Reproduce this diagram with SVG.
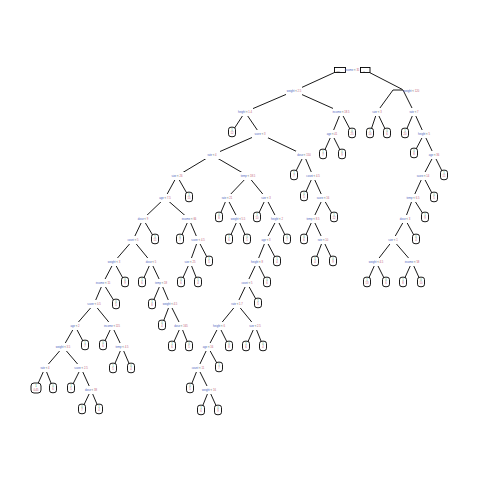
<svg xmlns="http://www.w3.org/2000/svg" width="480" height="480" viewBox="0 0 480 480">
<style>
.e line{stroke:#000;stroke-width:0.9;fill:none}
.n rect{fill:#fff}
.lf rect{fill:#fff;stroke:#000;stroke-width:0.9}
.rt rect{fill:#fff;stroke:#000;stroke-width:0.9}
text{font-family:"Liberation Sans",Arial,sans-serif;font-size:2.7px;text-anchor:middle}
.v{fill:#4a5fc1}.o{fill:#666}.c{fill:#c25a76}.g{fill:#2f9a5a}
</style>
<rect width="480" height="480" fill="#fff"/>
<g class="e" id="connectors">
<line x1="334.5" y1="72.5" x2="294" y2="91"/>
<line x1="369.5" y1="72.5" x2="402.5" y2="89.5"/>
<line x1="393" y1="90" x2="403" y2="90"/>
<line x1="393" y1="90" x2="377" y2="112"/>
<line x1="403" y1="90" x2="414" y2="112"/>
<line x1="294" y1="91" x2="245" y2="112"/><line x1="294" y1="91" x2="341" y2="112"/>
<line x1="245" y1="112" x2="232" y2="132"/><line x1="245" y1="112" x2="260" y2="134"/>
<line x1="341" y1="112" x2="332" y2="134"/><line x1="341" y1="112" x2="352" y2="133"/>
<line x1="260" y1="134" x2="212" y2="155"/><line x1="260" y1="134" x2="304" y2="155"/>
<line x1="332" y1="134" x2="323" y2="154"/><line x1="332" y1="134" x2="342" y2="154"/>
<line x1="212" y1="155" x2="177" y2="176"/><line x1="212" y1="155" x2="248" y2="176"/>
<line x1="304" y1="155" x2="294" y2="175"/><line x1="304" y1="155" x2="313" y2="176"/>
<line x1="177" y1="176" x2="165" y2="198"/><line x1="177" y1="176" x2="189" y2="197"/>
<line x1="248" y1="176" x2="227" y2="198"/><line x1="248" y1="176" x2="266" y2="198"/>
<line x1="313" y1="176" x2="304" y2="196"/><line x1="313" y1="176" x2="323" y2="198"/>
<line x1="165" y1="198" x2="143" y2="219"/><line x1="165" y1="198" x2="189" y2="219"/>
<line x1="227" y1="198" x2="219" y2="217"/><line x1="227" y1="198" x2="238" y2="219"/>
<line x1="266" y1="198" x2="257" y2="217"/><line x1="266" y1="198" x2="277" y2="219"/>
<line x1="323" y1="198" x2="313" y2="219"/><line x1="323" y1="198" x2="334" y2="217"/>
<line x1="143" y1="219" x2="133" y2="240"/><line x1="143" y1="219" x2="155" y2="239"/>
<line x1="189" y1="219" x2="180" y2="239"/><line x1="189" y1="219" x2="198" y2="240"/>
<line x1="238" y1="219" x2="229" y2="239"/><line x1="238" y1="219" x2="247" y2="239"/>
<line x1="277" y1="219" x2="266" y2="240"/><line x1="277" y1="219" x2="287" y2="239"/>
<line x1="313" y1="219" x2="304" y2="239"/><line x1="313" y1="219" x2="323" y2="240"/>
<line x1="133" y1="240" x2="114" y2="262"/><line x1="133" y1="240" x2="151" y2="262"/>
<line x1="198" y1="240" x2="190" y2="262"/><line x1="198" y1="240" x2="209" y2="261"/>
<line x1="266" y1="240" x2="257" y2="262"/><line x1="266" y1="240" x2="277" y2="261"/>
<line x1="323" y1="240" x2="315" y2="261"/><line x1="323" y1="240" x2="333" y2="261"/>
<line x1="114" y1="262" x2="103" y2="283"/><line x1="114" y1="262" x2="125" y2="282"/>
<line x1="151" y1="262" x2="142" y2="282"/><line x1="151" y1="262" x2="161" y2="283"/>
<line x1="190" y1="262" x2="181" y2="282"/><line x1="190" y1="262" x2="198" y2="282"/>
<line x1="257" y1="262" x2="247" y2="283"/><line x1="257" y1="262" x2="267" y2="282"/>
<line x1="103" y1="283" x2="94" y2="304"/><line x1="103" y1="283" x2="116" y2="304"/>
<line x1="161" y1="283" x2="152" y2="304"/><line x1="161" y1="283" x2="170" y2="304"/>
<line x1="247" y1="283" x2="237" y2="304"/><line x1="247" y1="283" x2="258" y2="303"/>
<line x1="94" y1="304" x2="75" y2="326"/><line x1="94" y1="304" x2="112" y2="326"/>
<line x1="170" y1="304" x2="162" y2="325"/><line x1="170" y1="304" x2="181" y2="326"/>
<line x1="237" y1="304" x2="219" y2="326"/><line x1="237" y1="304" x2="255" y2="326"/>
<line x1="75" y1="326" x2="63" y2="347"/><line x1="75" y1="326" x2="85" y2="345"/>
<line x1="112" y1="326" x2="103" y2="345"/><line x1="112" y1="326" x2="122" y2="347"/>
<line x1="181" y1="326" x2="172" y2="346"/><line x1="181" y1="326" x2="189" y2="346"/>
<line x1="219" y1="326" x2="208" y2="347"/><line x1="219" y1="326" x2="229" y2="346"/>
<line x1="255" y1="326" x2="246" y2="346"/><line x1="255" y1="326" x2="263" y2="346"/>
<line x1="63" y1="347" x2="45" y2="368"/><line x1="63" y1="347" x2="81" y2="368"/>
<line x1="122" y1="347" x2="113" y2="368"/><line x1="122" y1="347" x2="131" y2="368"/>
<line x1="208" y1="347" x2="198" y2="368"/><line x1="208" y1="347" x2="219" y2="367"/>
<line x1="45" y1="368" x2="36" y2="388"/><line x1="45" y1="368" x2="53" y2="388"/>
<line x1="81" y1="368" x2="71" y2="388"/><line x1="81" y1="368" x2="91" y2="390"/>
<line x1="198" y1="368" x2="190" y2="388"/><line x1="198" y1="368" x2="209" y2="390"/>
<line x1="91" y1="390" x2="82" y2="409"/><line x1="91" y1="390" x2="99" y2="409"/>
<line x1="209" y1="390" x2="201" y2="410"/><line x1="209" y1="390" x2="218" y2="410"/>
<line x1="377" y1="112" x2="370" y2="133"/><line x1="377" y1="112" x2="387" y2="133"/>
<line x1="414" y1="112" x2="405" y2="133"/><line x1="414" y1="112" x2="424" y2="134"/>
<line x1="424" y1="134" x2="414" y2="153"/><line x1="424" y1="134" x2="434" y2="155"/>
<line x1="434" y1="155" x2="423" y2="176"/><line x1="434" y1="155" x2="444" y2="175"/>
<line x1="423" y1="176" x2="413" y2="198"/><line x1="423" y1="176" x2="434" y2="197"/>
<line x1="413" y1="198" x2="405" y2="219"/><line x1="413" y1="198" x2="425" y2="217"/>
<line x1="405" y1="219" x2="393" y2="240"/><line x1="405" y1="219" x2="416" y2="239"/>
<line x1="393" y1="240" x2="376" y2="262"/><line x1="393" y1="240" x2="412" y2="262"/>
<line x1="376" y1="262" x2="367" y2="282"/><line x1="376" y1="262" x2="386" y2="282"/>
<line x1="412" y1="262" x2="403" y2="282"/><line x1="412" y1="262" x2="421" y2="282"/>
</g>
<g id="root" class="rt">
<rect x="334.5" y="67.5" width="11" height="5"/>
<rect x="360.5" y="67.5" width="9.5" height="5"/>
<text x="352" y="71"><tspan class="v">income</tspan><tspan class="o"> &lt; </tspan><tspan class="c">35</tspan></text>
<text x="338" y="71.5" class="o" style="font-size:2px">root</text>
<text x="364" y="71.5" class="o" style="font-size:2px">n</text>
</g>
<g id="nB"><text x="411.5" y="91.5"><tspan class="v">weight</tspan><tspan class="o"> &lt; </tspan><tspan class="c">120</tspan></text></g>
<g class="n">
<g id="nA"><rect x="286" y="87" width="16" height="8"/><text x="294" y="92"><tspan class="v">weight</tspan><tspan class="o"> &lt; </tspan><tspan class="c">2.5</tspan></text></g>
<g id="nA1"><rect x="237" y="108" width="16" height="8"/><text x="245" y="113"><tspan class="v">height</tspan><tspan class="o"> &lt; </tspan><tspan class="c">1.4</tspan></text></g>
<g id="nA2"><rect x="333" y="108" width="16" height="8"/><text x="341" y="113"><tspan class="v">income</tspan><tspan class="o"> &lt; </tspan><tspan class="c">18.5</tspan></text></g>
<g id="nA1R"><rect x="252" y="130" width="16" height="8"/><text x="260" y="135"><tspan class="v">score</tspan><tspan class="o"> &lt; </tspan><tspan class="c">3</tspan></text></g>
<g id="nA2L"><rect x="324" y="130" width="16" height="8"/><text x="332" y="135"><tspan class="v">age</tspan><tspan class="o"> &lt; </tspan><tspan class="c">41</tspan></text></g>
<g id="nN1"><rect x="204" y="151" width="16" height="8"/><text x="212" y="156"><tspan class="v">rate</tspan><tspan class="o"> &lt; </tspan><tspan class="c">4</tspan></text></g>
<g id="nN2"><rect x="296" y="151" width="16" height="8"/><text x="304" y="156"><tspan class="v">dose</tspan><tspan class="o"> &lt; </tspan><tspan class="c">150</tspan></text></g>
<g id="nP2"><rect x="169" y="172" width="16" height="8"/><text x="177" y="177"><tspan class="v">size</tspan><tspan class="o"> &lt; </tspan><tspan class="c">26</tspan></text></g>
<g id="nP3"><rect x="240" y="172" width="16" height="8"/><text x="248" y="177"><tspan class="v">temp</tspan><tspan class="o"> &lt; </tspan><tspan class="c">18.5</tspan></text></g>
<g id="nQ1"><rect x="305" y="172" width="16" height="8"/><text x="313" y="177"><tspan class="v">count</tspan><tspan class="o"> &lt; </tspan><tspan class="c">4.5</tspan></text></g>
<g id="nP4"><rect x="157" y="194" width="16" height="8"/><text x="165" y="199"><tspan class="v">age</tspan><tspan class="o"> &lt; </tspan><tspan class="c">7.5</tspan></text></g>
<g id="nP18"><rect x="219" y="194" width="16" height="8"/><text x="227" y="199"><tspan class="v">rate</tspan><tspan class="o"> &lt; </tspan><tspan class="c">21</tspan></text></g>
<g id="nP19"><rect x="258" y="194" width="16" height="8"/><text x="266" y="199"><tspan class="v">size</tspan><tspan class="o"> &lt; </tspan><tspan class="c">3</tspan></text></g>
<g id="nQ2"><rect x="315" y="194" width="16" height="8"/><text x="323" y="199"><tspan class="v">score</tspan><tspan class="o"> &lt; </tspan><tspan class="c">16</tspan></text></g>
<g id="nP5"><rect x="135" y="215" width="16" height="8"/><text x="143" y="220"><tspan class="v">dose</tspan><tspan class="o"> &lt; </tspan><tspan class="c">9</tspan></text></g>
<g id="nP6"><rect x="181" y="215" width="16" height="8"/><text x="189" y="220"><tspan class="v">income</tspan><tspan class="o"> &lt; </tspan><tspan class="c">66</tspan></text></g>
<g id="nP20"><rect x="230" y="215" width="16" height="8"/><text x="238" y="220"><tspan class="v">weight</tspan><tspan class="o"> &lt; </tspan><tspan class="c">5.5</tspan></text></g>
<g id="nP21"><rect x="269" y="215" width="16" height="8"/><text x="277" y="220"><tspan class="v">height</tspan><tspan class="o"> &lt; </tspan><tspan class="c">2</tspan></text></g>
<g id="nQ3"><rect x="305" y="215" width="16" height="8"/><text x="313" y="220"><tspan class="v">temp</tspan><tspan class="o"> &lt; </tspan><tspan class="c">8.5</tspan></text></g>
<g id="nP7"><rect x="125" y="236" width="16" height="8"/><text x="133" y="241"><tspan class="v">count</tspan><tspan class="o"> &lt; </tspan><tspan class="c">5</tspan></text></g>
<g id="nP17"><rect x="190" y="236" width="16" height="8"/><text x="198" y="241"><tspan class="v">score</tspan><tspan class="o"> &lt; </tspan><tspan class="c">4.5</tspan></text></g>
<g id="nP22"><rect x="258" y="236" width="16" height="8"/><text x="266" y="241"><tspan class="v">age</tspan><tspan class="o"> &lt; </tspan><tspan class="c">3</tspan></text></g>
<g id="nQ4"><rect x="315" y="236" width="16" height="8"/><text x="323" y="241"><tspan class="v">rate</tspan><tspan class="o"> &lt; </tspan><tspan class="c">10</tspan></text></g>
<g id="nP8"><rect x="106" y="258" width="16" height="8"/><text x="114" y="263"><tspan class="v">weight</tspan><tspan class="o"> &lt; </tspan><tspan class="c">3</tspan></text></g>
<g id="nP9"><rect x="143" y="258" width="16" height="8"/><text x="151" y="263"><tspan class="v">dose</tspan><tspan class="o"> &lt; </tspan><tspan class="c">5</tspan></text></g>
<g id="nP17L"><rect x="182" y="258" width="16" height="8"/><text x="190" y="263"><tspan class="v">size</tspan><tspan class="o"> &lt; </tspan><tspan class="c">25</tspan></text></g>
<g id="nP22L"><rect x="249" y="258" width="16" height="8"/><text x="257" y="263"><tspan class="v">height</tspan><tspan class="o"> &lt; </tspan><tspan class="c">8</tspan></text></g>
<g id="nP10"><rect x="95" y="279" width="16" height="8"/><text x="103" y="284"><tspan class="v">income</tspan><tspan class="o"> &lt; </tspan><tspan class="c">15</tspan></text></g>
<g id="nP11"><rect x="153" y="279" width="16" height="8"/><text x="161" y="284"><tspan class="v">temp</tspan><tspan class="o"> &lt; </tspan><tspan class="c">18</tspan></text></g>
<g id="nP22LL"><rect x="239" y="279" width="16" height="8"/><text x="247" y="284"><tspan class="v">count</tspan><tspan class="o"> &lt; </tspan><tspan class="c">5</tspan></text></g>
<g id="nP12"><rect x="86" y="300" width="16" height="8"/><text x="94" y="305"><tspan class="v">score</tspan><tspan class="o"> &lt; </tspan><tspan class="c">0.5</tspan></text></g>
<g id="nP13"><rect x="162" y="300" width="16" height="8"/><text x="170" y="305"><tspan class="v">weight</tspan><tspan class="o"> &lt; </tspan><tspan class="c">4.5</tspan></text></g>
<g id="nP22LLL"><rect x="229" y="300" width="16" height="8"/><text x="237" y="305"><tspan class="v">rate</tspan><tspan class="o"> &lt; </tspan><tspan class="c">1.7</tspan></text></g>
<g id="nP14"><rect x="67" y="322" width="16" height="8"/><text x="75" y="327"><tspan class="v">age</tspan><tspan class="o"> &lt; </tspan><tspan class="c">2</tspan></text></g>
<g id="nP15"><rect x="104" y="322" width="16" height="8"/><text x="112" y="327"><tspan class="v">income</tspan><tspan class="o"> &lt; </tspan><tspan class="c">115</tspan></text></g>
<g id="nP16"><rect x="173" y="322" width="16" height="8"/><text x="181" y="327"><tspan class="v">dose</tspan><tspan class="o"> &lt; </tspan><tspan class="c">165</tspan></text></g>
<g id="nP23"><rect x="211" y="322" width="16" height="8"/><text x="219" y="327"><tspan class="v">height</tspan><tspan class="o"> &lt; </tspan><tspan class="c">6</tspan></text></g>
<g id="nP24"><rect x="247" y="322" width="16" height="8"/><text x="255" y="327"><tspan class="v">size</tspan><tspan class="o"> &lt; </tspan><tspan class="c">2.5</tspan></text></g>
<g id="nP14L"><rect x="55" y="343" width="16" height="8"/><text x="63" y="348"><tspan class="v">weight</tspan><tspan class="o"> &lt; </tspan><tspan class="c">3.5</tspan></text></g>
<g id="nP19b"><rect x="114" y="343" width="16" height="8"/><text x="122" y="348"><tspan class="v">temp</tspan><tspan class="o"> &lt; </tspan><tspan class="c">4.5</tspan></text></g>
<g id="nP23L"><rect x="201" y="343" width="14" height="8"/><text x="208" y="348"><tspan class="v">age</tspan><tspan class="o"> &lt; </tspan><tspan class="c">16</tspan></text></g>
<g id="nP14LL"><rect x="38" y="364" width="14" height="8"/><text x="45" y="369"><tspan class="v">rate</tspan><tspan class="o"> &lt; </tspan><tspan class="c">4</tspan></text></g>
<g id="nP14LR"><rect x="73" y="364" width="16" height="8"/><text x="81" y="369"><tspan class="v">score</tspan><tspan class="o"> &lt; </tspan><tspan class="c">2.5</tspan></text></g>
<g id="nP23LL"><rect x="190" y="364" width="16" height="8"/><text x="198" y="369"><tspan class="v">count</tspan><tspan class="o"> &lt; </tspan><tspan class="c">11</tspan></text></g>
<g id="nP14LRR"><rect x="83" y="386" width="16" height="8"/><text x="91" y="391"><tspan class="v">dose</tspan><tspan class="o"> &lt; </tspan><tspan class="c">38</tspan></text></g>
<g id="nP23LLR"><rect x="201" y="386" width="16" height="8"/><text x="209" y="391"><tspan class="v">weight</tspan><tspan class="o"> &lt; </tspan><tspan class="c">16</tspan></text></g>
<g id="nB1"><rect x="371" y="108" width="12" height="8"/><text x="377" y="113"><tspan class="v">size</tspan><tspan class="o"> &lt; </tspan><tspan class="c">3</tspan></text></g>
<g id="nB2"><rect x="408" y="108" width="12" height="8"/><text x="414" y="113"><tspan class="v">rate</tspan><tspan class="o"> &lt; </tspan><tspan class="c">7</tspan></text></g>
<g id="nR1"><rect x="417" y="130" width="14" height="8"/><text x="424" y="135"><tspan class="v">height</tspan><tspan class="o"> &lt; </tspan><tspan class="c">5</tspan></text></g>
<g id="nR2"><rect x="427" y="151" width="14" height="8"/><text x="434" y="156"><tspan class="v">age</tspan><tspan class="o"> &lt; </tspan><tspan class="c">36</tspan></text></g>
<g id="nR3"><rect x="416" y="172" width="14" height="8"/><text x="423" y="177"><tspan class="v">score</tspan><tspan class="o"> &lt; </tspan><tspan class="c">14</tspan></text></g>
<g id="nR4"><rect x="406" y="194" width="14" height="8"/><text x="413" y="199"><tspan class="v">temp</tspan><tspan class="o"> &lt; </tspan><tspan class="c">6.5</tspan></text></g>
<g id="nR5"><rect x="399" y="215" width="12" height="8"/><text x="405" y="220"><tspan class="v">dose</tspan><tspan class="o"> &lt; </tspan><tspan class="c">3</tspan></text></g>
<g id="nR6"><rect x="387" y="236" width="12" height="8"/><text x="393" y="241"><tspan class="v">size</tspan><tspan class="o"> &lt; </tspan><tspan class="c">1</tspan></text></g>
<g id="nR7"><rect x="368" y="258" width="16" height="8"/><text x="376" y="263"><tspan class="v">weight</tspan><tspan class="o"> &lt; </tspan><tspan class="c">4.5</tspan></text></g>
<g id="nR8"><rect x="404" y="258" width="16" height="8"/><text x="412" y="263"><tspan class="v">income</tspan><tspan class="o"> &lt; </tspan><tspan class="c">58</tspan></text></g>
</g>
<g class="lf">
<g id="l1"><rect x="228.5" y="127.2" width="7" height="9.5" rx="2.5"/><text x="232" y="131.2" class="g">1</text><text x="232" y="134.2" class="c">12</text></g>
<g id="l2"><rect x="348.5" y="128.2" width="7" height="9.5" rx="2.5"/><text x="352" y="132.2" class="g">0</text><text x="352" y="135.2" class="c">25</text></g>
<g id="l3"><rect x="319.5" y="149.2" width="7" height="9.5" rx="2.5"/><text x="323" y="153.2" class="g">1</text><text x="323" y="156.2" class="c">7</text></g>
<g id="l4"><rect x="338.5" y="149.2" width="7" height="9.5" rx="2.5"/><text x="342" y="153.2" class="g">0</text><text x="342" y="156.2" class="c">9</text></g>
<g id="l5"><rect x="366.5" y="128.2" width="7" height="9.5" rx="2.5"/><text x="370" y="132.2" class="g">1</text><text x="370" y="135.2" class="c">14</text></g>
<g id="l6"><rect x="383.5" y="128.2" width="7" height="9.5" rx="2.5"/><text x="387" y="132.2" class="g">0</text><text x="387" y="135.2" class="c">6</text></g>
<g id="l7"><rect x="401.5" y="128.2" width="7" height="9.5" rx="2.5"/><text x="405" y="132.2" class="g">1</text><text x="405" y="135.2" class="c">20</text></g>
<g id="l8"><rect x="410.5" y="148.2" width="7" height="9.5" rx="2.5"/><text x="414" y="152.2" class="g">0</text><text x="414" y="155.2" class="c">8</text></g>
<g id="l9"><rect x="440.5" y="170.2" width="7" height="9.5" rx="2.5"/><text x="444" y="174.2" class="g">1</text><text x="444" y="177.2" class="c">11</text></g>
<g id="l10"><rect x="430.5" y="192.2" width="7" height="9.5" rx="2.5"/><text x="434" y="196.2" class="g">0</text><text x="434" y="199.2" class="c">5</text></g>
<g id="l11"><rect x="421.5" y="212.2" width="7" height="9.5" rx="2.5"/><text x="425" y="216.2" class="g">1</text><text x="425" y="219.2" class="c">9</text></g>
<g id="l12"><rect x="412.5" y="234.2" width="7" height="9.5" rx="2.5"/><text x="416" y="238.2" class="g">0</text><text x="416" y="241.2" class="c">4</text></g>
<g id="l13"><rect x="363.5" y="277.2" width="7" height="9.5" rx="2.5"/><text x="367" y="281.2" class="g">1</text><text x="367" y="284.2" class="c">13</text></g>
<g id="l14"><rect x="382.5" y="277.2" width="7" height="9.5" rx="2.5"/><text x="386" y="281.2" class="g">0</text><text x="386" y="284.2" class="c">6</text></g>
<g id="l15"><rect x="399.5" y="277.2" width="7" height="9.5" rx="2.5"/><text x="403" y="281.2" class="g">1</text><text x="403" y="284.2" class="c">8</text></g>
<g id="l16"><rect x="417.5" y="277.2" width="7" height="9.5" rx="2.5"/><text x="421" y="281.2" class="g">0</text><text x="421" y="284.2" class="c">10</text></g>
<g id="l17"><rect x="290.5" y="170.2" width="7" height="9.5" rx="2.5"/><text x="294" y="174.2" class="g">1</text><text x="294" y="177.2" class="c">7</text></g>
<g id="l18"><rect x="300.5" y="191.2" width="7" height="9.5" rx="2.5"/><text x="304" y="195.2" class="g">0</text><text x="304" y="198.2" class="c">5</text></g>
<g id="l19"><rect x="330.5" y="212.2" width="7" height="9.5" rx="2.5"/><text x="334" y="216.2" class="g">1</text><text x="334" y="219.2" class="c">12</text></g>
<g id="l20"><rect x="300.5" y="234.2" width="7" height="9.5" rx="2.5"/><text x="304" y="238.2" class="g">0</text><text x="304" y="241.2" class="c">6</text></g>
<g id="l21"><rect x="311.5" y="256.2" width="7" height="9.5" rx="2.5"/><text x="315" y="260.2" class="g">1</text><text x="315" y="263.2" class="c">4</text></g>
<g id="l22"><rect x="329.5" y="256.2" width="7" height="9.5" rx="2.5"/><text x="333" y="260.2" class="g">0</text><text x="333" y="263.2" class="c">9</text></g>
<g id="l23"><rect x="185.5" y="192.2" width="7" height="9.5" rx="2.5"/><text x="189" y="196.2" class="g">1</text><text x="189" y="199.2" class="c">15</text></g>
<g id="l24"><rect x="215.5" y="212.2" width="7" height="9.5" rx="2.5"/><text x="219" y="216.2" class="g">0</text><text x="219" y="219.2" class="c">8</text></g>
<g id="l25"><rect x="225.5" y="234.2" width="7" height="9.5" rx="2.5"/><text x="229" y="238.2" class="g">1</text><text x="229" y="241.2" class="c">6</text></g>
<g id="l26"><rect x="243.5" y="234.2" width="7" height="9.5" rx="2.5"/><text x="247" y="238.2" class="g">0</text><text x="247" y="241.2" class="c">5</text></g>
<g id="l27"><rect x="253.5" y="212.2" width="7" height="9.5" rx="2.5"/><text x="257" y="216.2" class="g">1</text><text x="257" y="219.2" class="c">10</text></g>
<g id="l28"><rect x="283.5" y="234.2" width="7" height="9.5" rx="2.5"/><text x="287" y="238.2" class="g">0</text><text x="287" y="241.2" class="c">7</text></g>
<g id="l29"><rect x="273.5" y="256.2" width="7" height="9.5" rx="2.5"/><text x="277" y="260.2" class="g">1</text><text x="277" y="263.2" class="c">4</text></g>
<g id="l30"><rect x="263.5" y="277.2" width="7" height="9.5" rx="2.5"/><text x="267" y="281.2" class="g">0</text><text x="267" y="284.2" class="c">6</text></g>
<g id="l31"><rect x="254.5" y="298.2" width="7" height="9.5" rx="2.5"/><text x="258" y="302.2" class="g">1</text><text x="258" y="305.2" class="c">5</text></g>
<g id="l32"><rect x="225.5" y="341.2" width="7" height="9.5" rx="2.5"/><text x="229" y="345.2" class="g">0</text><text x="229" y="348.2" class="c">8</text></g>
<g id="l33"><rect x="242.5" y="341.2" width="7" height="9.5" rx="2.5"/><text x="246" y="345.2" class="g">1</text><text x="246" y="348.2" class="c">6</text></g>
<g id="l34"><rect x="259.5" y="341.2" width="7" height="9.5" rx="2.5"/><text x="263" y="345.2" class="g">0</text><text x="263" y="348.2" class="c">4</text></g>
<g id="l35"><rect x="215.5" y="362.2" width="7" height="9.5" rx="2.5"/><text x="219" y="366.2" class="g">1</text><text x="219" y="369.2" class="c">7</text></g>
<g id="l36"><rect x="186.5" y="383.2" width="7" height="9.5" rx="2.5"/><text x="190" y="387.2" class="g">0</text><text x="190" y="390.2" class="c">5</text></g>
<g id="l37"><rect x="197.5" y="405.2" width="7" height="9.5" rx="2.5"/><text x="201" y="409.2" class="g">1</text><text x="201" y="412.2" class="c">6</text></g>
<g id="l38"><rect x="214.5" y="405.2" width="7" height="9.5" rx="2.5"/><text x="218" y="409.2" class="g">0</text><text x="218" y="412.2" class="c">9</text></g>
<g id="l39"><rect x="151.5" y="234.2" width="7" height="9.5" rx="2.5"/><text x="155" y="238.2" class="g">1</text><text x="155" y="241.2" class="c">11</text></g>
<g id="l40"><rect x="176.5" y="234.2" width="7" height="9.5" rx="2.5"/><text x="180" y="238.2" class="g">0</text><text x="180" y="241.2" class="c">7</text></g>
<g id="l41"><rect x="205.5" y="256.2" width="7" height="9.5" rx="2.5"/><text x="209" y="260.2" class="g">1</text><text x="209" y="263.2" class="c">5</text></g>
<g id="l42"><rect x="177.5" y="277.2" width="7" height="9.5" rx="2.5"/><text x="181" y="281.2" class="g">0</text><text x="181" y="284.2" class="c">6</text></g>
<g id="l43"><rect x="194.5" y="277.2" width="7" height="9.5" rx="2.5"/><text x="198" y="281.2" class="g">1</text><text x="198" y="284.2" class="c">4</text></g>
<g id="l44"><rect x="121.5" y="277.2" width="7" height="9.5" rx="2.5"/><text x="125" y="281.2" class="g">0</text><text x="125" y="284.2" class="c">9</text></g>
<g id="l45"><rect x="138.5" y="277.2" width="7" height="9.5" rx="2.5"/><text x="142" y="281.2" class="g">1</text><text x="142" y="284.2" class="c">6</text></g>
<g id="l46"><rect x="112.5" y="299.2" width="7" height="9.5" rx="2.5"/><text x="116" y="303.2" class="g">0</text><text x="116" y="306.2" class="c">5</text></g>
<g id="l47"><rect x="148.5" y="299.2" width="7" height="9.5" rx="2.5"/><text x="152" y="303.2" class="g">1</text><text x="152" y="306.2" class="c">8</text></g>
<g id="l48"><rect x="158.5" y="320.2" width="7" height="9.5" rx="2.5"/><text x="162" y="324.2" class="g">0</text><text x="162" y="327.2" class="c">4</text></g>
<g id="l49"><rect x="168.5" y="341.2" width="7" height="9.5" rx="2.5"/><text x="172" y="345.2" class="g">1</text><text x="172" y="348.2" class="c">6</text></g>
<g id="l50"><rect x="185.5" y="341.2" width="7" height="9.5" rx="2.5"/><text x="189" y="345.2" class="g">0</text><text x="189" y="348.2" class="c">5</text></g>
<g id="l51"><rect x="81.5" y="340.2" width="7" height="9.5" rx="2.5"/><text x="85" y="344.2" class="g">1</text><text x="85" y="347.2" class="c">7</text></g>
<g id="l52"><rect x="99.5" y="340.2" width="7" height="9.5" rx="2.5"/><text x="103" y="344.2" class="g">0</text><text x="103" y="347.2" class="c">6</text></g>
<g id="l53"><rect x="109.5" y="363.2" width="7" height="9.5" rx="2.5"/><text x="113" y="367.2" class="g">1</text><text x="113" y="370.2" class="c">5</text></g>
<g id="l54"><rect x="127.5" y="363.2" width="7" height="9.5" rx="2.5"/><text x="131" y="367.2" class="g">0</text><text x="131" y="370.2" class="c">4</text></g>
<g id="l55"><rect x="31" y="383" width="10" height="10" rx="3"/><text x="36" y="387" class="g">1</text><text x="36" y="390.5" class="c">0.45</text></g>
<g id="l56"><rect x="49.5" y="383.2" width="7" height="9.5" rx="2.5"/><text x="53" y="387.2" class="g">0</text><text x="53" y="390.2" class="c">6</text></g>
<g id="l57"><rect x="67.5" y="383.2" width="7" height="9.5" rx="2.5"/><text x="71" y="387.2" class="g">1</text><text x="71" y="390.2" class="c">5</text></g>
<g id="l58"><rect x="78.5" y="404.2" width="7" height="9.5" rx="2.5"/><text x="82" y="408.2" class="g">0</text><text x="82" y="411.2" class="c">7</text></g>
<g id="l59"><rect x="95.5" y="404.2" width="7" height="9.5" rx="2.5"/><text x="99" y="408.2" class="g">1</text><text x="99" y="411.2" class="c">4</text></g>
</g>
</svg>
